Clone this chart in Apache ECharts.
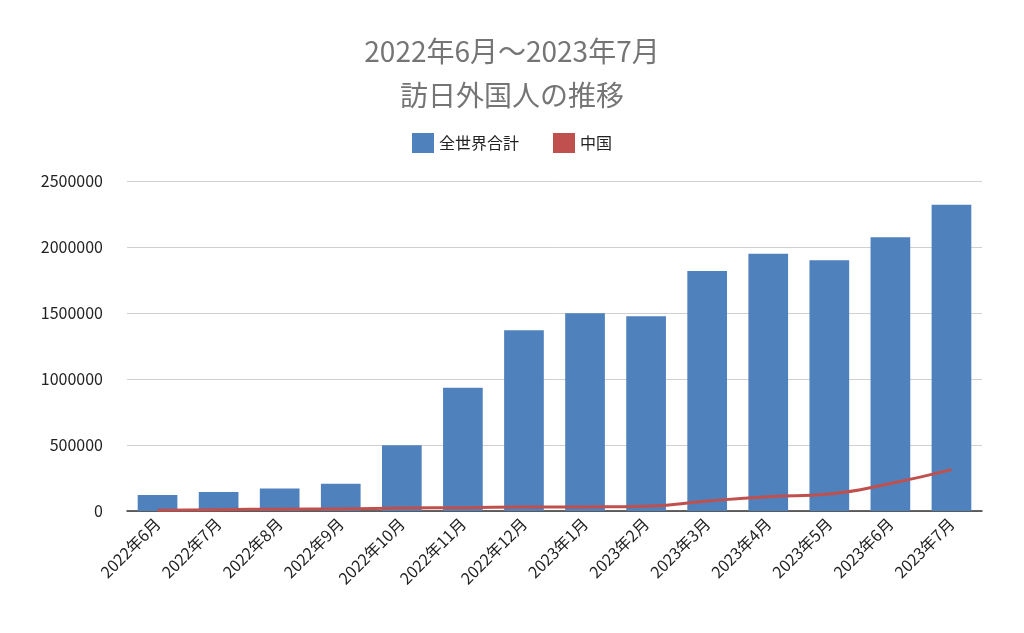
<!DOCTYPE html>
<html><head><meta charset="utf-8">
<script src="https://cdn.jsdelivr.net/npm/echarts@6/dist/echarts.min.js"></script>
<style>html,body{margin:0;padding:0;background:#fff}#c{width:1024px;height:633px}</style>
</head><body><div id="c"></div>
<script>
const categories=['2022年6月','2022年7月','2022年8月','2022年9月','2022年10月','2022年11月','2022年12月','2023年1月','2023年2月','2023年3月','2023年4月','2023年5月','2023年6月','2023年7月'];
const worldTotal=[120430,144578,169902,206641,498646,934599,1370114,1497472,1475455,1817500,1949100,1899200,2073300,2320600];
const china=[5000,10100,14100,15000,22100,24900,30000,31200,36200,75700,108300,129500,208800,313300];
const yTicks=[0,500000,1000000,1500000,2000000,2500000];
const chart=echarts.init(document.getElementById('c'));
const F='"Noto Sans CJK JP","Noto Sans",sans-serif';
chart.setOption({
 animation:false,
 title:{text:'2022年6月～2023年7月\n訪日外国人の推移',left:'center',top:24,textStyle:{color:'#757575',fontSize:28,fontWeight:'normal',fontFamily:F,lineHeight:44}},
 legend:{top:128,left:'center',itemGap:34,textStyle:{fontSize:16,color:'#222',fontFamily:F},
  data:[{name:'全世界合計',icon:'rect',itemStyle:{}},{name:'中国',icon:'rect'}],itemWidth:22,itemHeight:20},
 grid:{left:127,right:42,top:181,bottom:122},
 xAxis:{type:'category',data:categories,axisTick:{show:false},axisLine:{lineStyle:{color:'#333',width:1.5}},
  axisLabel:{rotate:45,fontSize:16,color:'#222',fontFamily:F,interval:0,margin:10}},
 yAxis:{type:'value',min:yTicks[0],max:yTicks[yTicks.length-1],interval:500000,
  axisLabel:{fontSize:16,color:'#222',fontFamily:F,margin:24,align:'right',formatter:v=>String(v)},
  splitLine:{lineStyle:{color:'#d0d0d0'}},axisLine:{show:false},axisTick:{show:false}},
 series:[
  {name:'全世界合計',type:'bar',data:worldTotal,barWidth:'65%',itemStyle:{color:'#4f81bd'}},
  {name:'中国',type:'line',data:china,symbol:'none',smooth:true,lineStyle:{color:'#c0504d',width:3},itemStyle:{color:'#c0504d'}}
 ]
});
</script></body></html>
